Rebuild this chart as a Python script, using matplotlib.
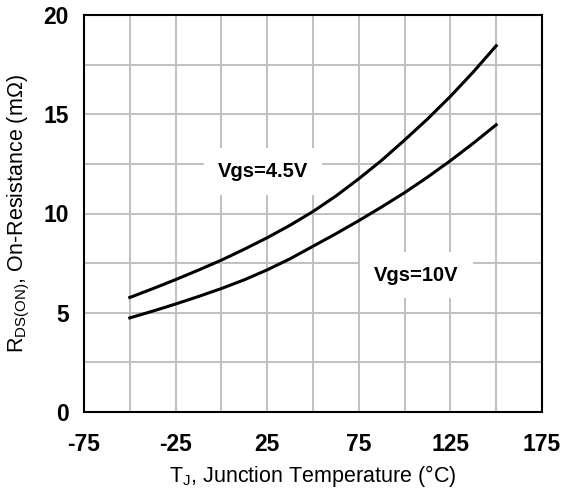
import matplotlib
matplotlib.use("Agg")
import matplotlib.pyplot as plt

plt.rcParams["font.family"] = ["Liberation Sans", "DejaVu Sans"]
plt.rcParams["mathtext.default"] = "regular"
plt.rcParams["axes.unicode_minus"] = False

# Junction temperature (degC), read every 12.5 degC
temp = [-50, -37.5, -25, -12.5, 0, 12.5, 25, 37.5, 50,
        62.5, 75, 87.5, 100, 112.5, 125, 137.5, 150]
# On-resistance (mOhm)
rds_4v5 = [5.77, 6.21, 6.67, 7.15, 7.65, 8.2, 8.78, 9.41, 10.1,
           10.88, 11.75, 12.68, 13.7, 14.76, 15.9, 17.13, 18.45]
rds_10v = [4.74, 5.08, 5.44, 5.82, 6.22, 6.66, 7.16, 7.72, 8.35,
           8.98, 9.64, 10.33, 11.05, 11.83, 12.66, 13.54, 14.47]

x_ticks = [-75, -25, 25, 75, 125, 175]
x_grid = [-50, 0, 50, 100, 150]
y_ticks = [0, 5, 10, 15, 20]
y_grid = [2.5, 7.5, 12.5, 17.5]

fig = plt.figure(figsize=(5.64, 4.93), dpi=100)
ax = fig.add_axes([84 / 564, 1 - 412 / 493, 458 / 564, 397 / 493])

ax.plot(temp, rds_4v5, color="black", lw=2.2, solid_joinstyle="round", zorder=3)
ax.plot(temp, rds_10v, color="black", lw=2.2, solid_joinstyle="round", zorder=3)

ax.set_xlim(-75, 175)
ax.set_ylim(0, 20)
ax.set_xticks(x_ticks)
ax.set_xticks(x_grid, minor=True)
ax.set_yticks(y_ticks)
ax.set_yticks(y_grid, minor=True)
ax.grid(True, which="both", color="#c0c0c0", lw=1.4, zorder=0)
ax.set_axisbelow(True)
ax.tick_params(which="both", length=0)
ax.tick_params(axis="x", pad=15, labelsize=16.5)
ax.tick_params(axis="y", pad=11, labelsize=16.5)
for lab in ax.get_xticklabels() + ax.get_yticklabels():
    lab.set_fontweight("bold")
for sp in ax.spines.values():
    sp.set_linewidth(1.5)
    sp.set_zorder(4)

box = dict(facecolor="white", edgecolor="none", pad=10)
ax.text(22.5, 12.1, "Vgs=4.5V", fontsize=14.5, fontweight="bold",
        ha="center", va="center", bbox=box, zorder=2)
ax.text(106.5, 6.9, "Vgs=10V", fontsize=14.5, fontweight="bold",
        ha="center", va="center", bbox=box, zorder=2)

ax.set_xlabel("T$_J$, Junction Temperature (°C)", fontsize=15.5, labelpad=5)
ax.set_ylabel("R$_{DS(ON)}$, On-Resistance (mΩ)", fontsize=15.5, labelpad=8)

plt.savefig("out.png", dpi=100)
